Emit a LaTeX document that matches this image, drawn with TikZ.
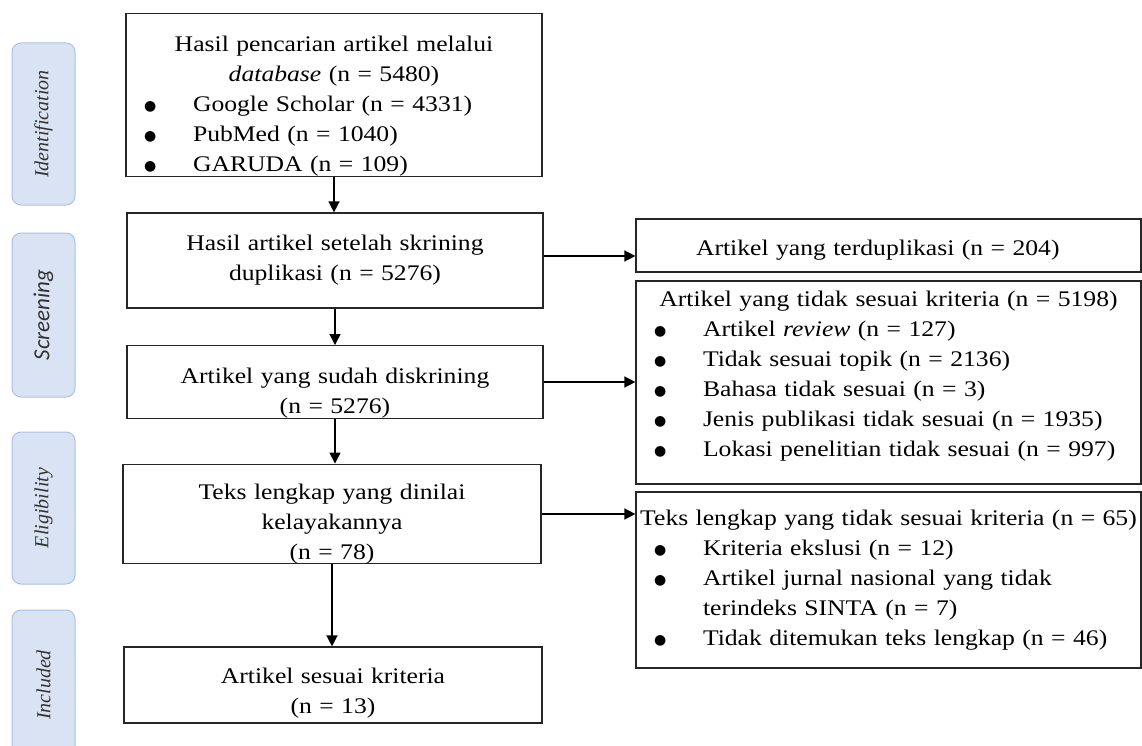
\documentclass[tikz,border=0pt]{standalone}
\usepackage{fontspec}
\setmainfont{Liberation Serif}[FakeStretch=1.15]
\newfontfamily\phaseserif{Liberation Serif}
\newfontfamily\phasesans{Carlito}
\newfontfamily\dotfont{DejaVu Sans}
\usetikzlibrary{arrows.meta}

\definecolor{phasefill}{HTML}{DAE3F3}
\definecolor{phaseline}{HTML}{A9C1E8}

% bullet line and its continuation inside a box
\newcommand{\dotmark}{\raisebox{1.2pt}{\dotfont\fontsize{14}{14}\selectfont ●}}
\newcommand{\itm}[1]{\makebox[\linewidth][l]{\hspace{18pt}\makebox[49pt][l]{\dotmark}#1}}
\newcommand{\cnt}[1]{\makebox[\linewidth][l]{\hspace{67pt}#1}}
% extra room above the first line / below the last line
\newcommand{\padtop}[1]{\rule{0pt}{\dimexpr 15pt+#1\relax}}
\newcommand{\padbot}[1]{\rule[\dimexpr -4.8pt-#1\relax]{0pt}{1pt}}

\begin{document}
\begin{tikzpicture}[
  x=1pt, y=-1pt,
  box/.style={draw=black!85, line width=1.2pt, inner sep=0pt, align=center, font=\fontsize{22.3}{30}\selectfont},
  phase/.style={draw=phaseline, fill=phasefill, rounded corners=9pt, line width=1pt, rotate=90, text=black!80, minimum height=63pt, font=\fontsize{20}{24}\selectfont\phaseserif\itshape},
  arr/.style={-{Triangle[length=11pt,width=11pt]}, line width=1.5pt}
]
\useasboundingbox (0,0) rectangle (1142,746);

% phases
\node[phase, minimum width=162pt] (ident) at (43.5,124) {Identification};
\node[phase, minimum width=164pt, font=\fontsize{23}{26}\selectfont\phasesans\itshape] (screen) at (43.5,315) {Screening};
\node[phase, minimum width=152pt] (elig) at (43.5,508) {Eligibility};
\node[phase, minimum width=150pt] (incl) at (43.5,685) {Included};

% main column
\node[box, text width=416pt, minimum height=162pt] (search) at (334,95) {\padtop{23pt}Hasil pencarian artikel melalui\\ \textit{database} (n = 5480)\\ \itm{Google Scholar (n = 4331)}\\ \itm{PubMed (n = 1040)}\\ \itm{GARUDA (n = 109)}};
\node[box, text width=416pt, minimum height=95pt] (dedup) at (335,260.5) {Hasil artikel setelah skrining\\ duplikasi (n = 5276)};
\node[box, text width=416pt, minimum height=72pt] (screened) at (335,382) {\padtop{23pt}Artikel yang sudah diskrining\\ (n = 5276)};
\node[box, text width=418pt, minimum height=99pt] (fulltext) at (332,514) {\padtop{20pt}Teks lengkap yang dinilai\\ kelayakannya\\ (n = 78)};
\node[box, text width=418pt, minimum height=76pt] (final) at (333,685) {\padtop{16pt}Artikel sesuai kriteria\\ (n = 13)};

% excluded column
\node[box, text width=505pt, minimum height=53pt] (dupl) at (888.5,245.5) {\makebox[\linewidth][l]{\padtop{10pt}\hspace{60pt}Artikel yang terduplikasi (n = 204)}};
\node[box, text width=505pt, minimum height=203pt] (notfit) at (888.5,382.5) {Artikel yang tidak sesuai kriteria (n = 5198)\\ \itm{Artikel \textit{review} (n = 127)}\\ \itm{Tidak sesuai topik (n = 2136)}\\ \itm{Bahasa tidak sesuai (n = 3)}\\ \itm{Jenis publikasi tidak sesuai (n = 1935)}\\ \itm{Lokasi penelitian tidak sesuai (n = 997)}\padbot{12pt}};
\node[box, text width=505pt, minimum height=176pt] (ftout) at (888.5,580) {Teks lengkap yang tidak sesuai kriteria (n = 65)\\ \itm{Kriteria ekslusi (n = 12)}\\ \itm{Artikel jurnal nasional yang tidak}\\ \cnt{terindeks SINTA (n = 7)}\\ \itm{Tidak ditemukan teks lengkap (n = 46)}};

% arrows
\draw[arr] (search.south) -- (search.south |- dedup.north);
\draw[arr] (dedup.south) -- (dedup.south |- screened.north);
\draw[arr] (screened.south) -- (screened.south |- fulltext.north);
\draw[arr] (fulltext.south) -- (fulltext.south |- final.north);
\draw[arr] ([yshift=4.5pt]dedup.east) -- ([yshift=4.5pt]dedup.east -| dupl.west);
\draw[arr] (screened.east) -- (screened.east -| notfit.west);
\draw[arr] (fulltext.east) -- (fulltext.east -| ftout.west);
\end{tikzpicture}
\end{document}
